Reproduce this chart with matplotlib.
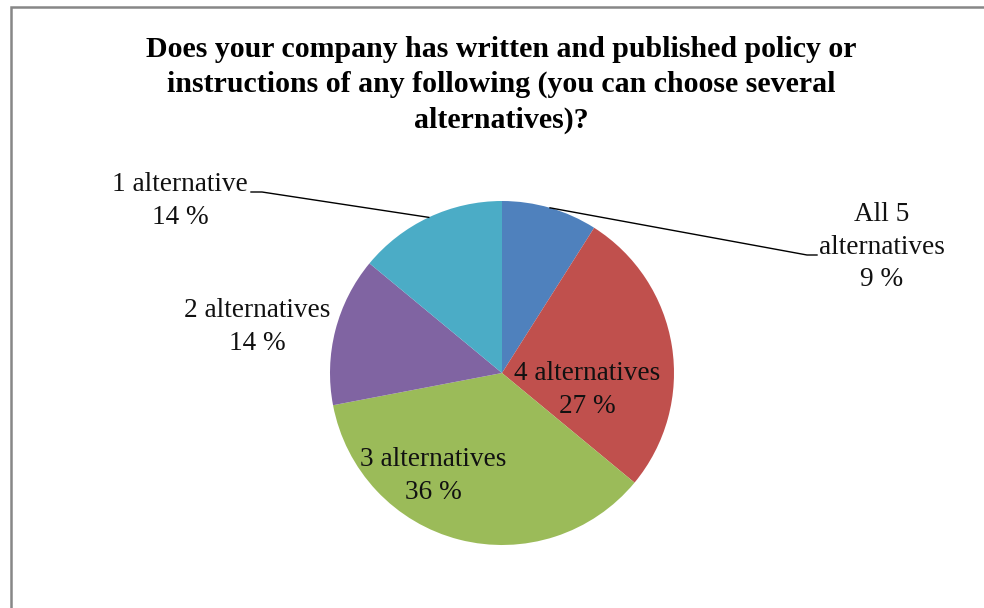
import numpy as np
import matplotlib
matplotlib.use("Agg")
import matplotlib.pyplot as plt
from matplotlib.patches import Rectangle

categories = ["All 5\nalternatives", "4 alternatives", "3 alternatives",
              "2 alternatives", "1 alternative"]
shares = [9, 27, 36, 14, 14]
colors = ["#4F81BD", "#C0504D", "#9BBB59", "#8064A2", "#4BACC6"]
title = ("Does your company has written and published policy or\n"
         "instructions of any following (you can choose several\n"
         "alternatives)?")

W, H = 984, 608
fig = plt.figure(figsize=(W / 100, H / 100), dpi=100)
plt.rcParams["font.family"] = ["Liberation Serif", "DejaVu Serif"]

ax = fig.add_axes([0, 0, 1, 1])
cx, cy, r = 502, H - 373, 172
wedges, _ = ax.pie(shares, colors=colors, startangle=90, counterclock=False,
                   center=(cx, cy), radius=r, frame=True,
                   wedgeprops=dict(linewidth=0))
ax.set_xlim(0, W)
ax.set_ylim(0, H)
ax.set_aspect("equal")
ax.axis("off")

# chart frame
fig.patches.append(Rectangle((11 / W, -0.1), 1.2, (H - 7) / H + 0.1,
                             transform=fig.transFigure, fill=False,
                             edgecolor="#878787", linewidth=1.8))

fig.text(501 / W, 1 - 85 / H, title, ha="center", va="center",
         fontsize=21.5, fontweight="bold", linespacing=1.41)

# slice mid angles in degrees
bounds = 90 - np.cumsum([0] + shares) / 100 * 360
mids = (bounds[:-1] + bounds[1:]) / 2

fs = 19.6
label_pos = {
    0: (882, 247),
    1: (587, 390),
    2: (433, 476),
    3: (257, 327),
    4: (180, 201),
}
for i, (name, val) in enumerate(zip(categories, shares)):
    x, y = label_pos[i]
    ax.text(x, H - y, f"{name}\n{val} %", ha="center", va="center",
            fontsize=fs, linespacing=1.42, color="#111111")

# leader lines for the two small top slices
def edge(angle):
    a = np.deg2rad(angle)
    return cx + r * np.cos(a), cy + r * np.sin(a)

ex, ey = edge(mids[0])
ax.plot([ex, 807, 817], [ey, H - 255, H - 255], color="black", lw=1)
ex, ey = edge(mids[4])
ax.plot([ex, 262, 251], [ey, H - 192, H - 192], color="black", lw=1)

fig.savefig("out.png", dpi=100)
